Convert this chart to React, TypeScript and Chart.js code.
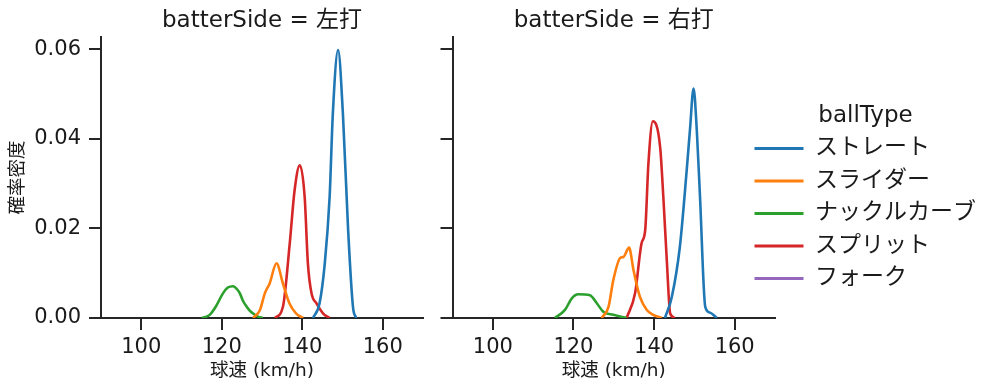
import React, { useEffect, useRef } from 'react';
import { Chart, registerables } from 'chart.js';

Chart.register(...registerables);

// ---------- data ----------
const ballTypes = ['ストレート', 'スライダー', 'ナックルカーブ', 'スプリット', 'フォーク'];
const colors = ['#1f77b4', '#ff7f0e', '#2ca02c', '#d62728', '#9467bd'];
const panelTitles = ['batterSide = 左打', 'batterSide = 右打'];
const legendTitle = 'ballType';
const xTitle = '球速 (km/h)';
const yTitle = '確率密度';
const xTicks = [100, 120, 140, 160];
const yTicks = [0, 0.02, 0.04, 0.06];

// left panel (左打): [speed, density]
const leftStraight = [[142.7, 0], [144.3, 0.0033], [145.6, 0.0122], [146.8, 0.027], [147.6, 0.0456], [148.9, 0.0598], [150.1, 0.0456], [151.4, 0.0196], [152.6, 0.0025], [153.4, 0]];
const leftSlider = [[127.8, 0], [129.5, 0.0018], [130.7, 0.0055], [131.9, 0.0077], [133.6, 0.0122], [135.2, 0.0077], [136.8, 0.0033], [138.5, 0.001], [140.2, 0]];
const leftKnuckleCurve = [[115, 0], [117, 0.0007], [118.5, 0.0025], [120.3, 0.0055], [121.5, 0.0068], [122.8, 0.0071], [124, 0.0062], [124.5, 0.0055], [125.3, 0.0038], [126.2, 0.0025], [127, 0.0016], [127.8, 0.001], [129, 0.0003], [130.2, 0]];
const leftSplit = [[133.2, 0], [135.2, 0.0025], [136.9, 0.0167], [138.1, 0.0285], [139.4, 0.0341], [140.6, 0.027], [141.4, 0.0122], [142.3, 0.0055], [143.5, 0.0033], [145.2, 0.001], [146.8, 0]];
const leftFork: number[][] = [];

// right panel (右打)
const rightStraight = [[142.7, 0], [144.4, 0.0047], [146.4, 0.0159], [148.1, 0.033], [148.9, 0.0419], [149.8, 0.0512], [150.6, 0.0419], [151.4, 0.027], [152.7, 0.0025], [153.9, 0.0012], [155.6, 0]];
const rightSlider = [[127, 0], [128.7, 0.0025], [129.9, 0.0085], [131.6, 0.0134], [132.4, 0.0136], [133.8, 0.0157], [134.9, 0.0107], [136.5, 0.0047], [138.2, 0.0018], [139.8, 0.0007], [141.9, 0]];
const rightKnuckleCurve = [[115.4, 0], [117.9, 0.0018], [119.6, 0.0044], [121.2, 0.0053], [124.1, 0.0051], [125.8, 0.0033], [127.4, 0.0014], [129.9, 0.0007], [133.2, 0]];
const rightSplit = [[133.2, 0], [135.3, 0.0056], [136.9, 0.0167], [137.8, 0.0196], [138.6, 0.0345], [139.7, 0.0439], [141.5, 0.0382], [142.3, 0.027], [143.2, 0.0122], [144, 0.001], [145.2, 0]];
const rightFork: number[][] = [];

const panelSeries = [
  [leftStraight, leftSlider, leftKnuckleCurve, leftSplit, leftFork],
  [rightStraight, rightSlider, rightKnuckleCurve, rightSplit, rightFork],
];

// ---------- styling ----------
const FONT = '"DejaVu Sans", "Noto Sans CJK JP", sans-serif';
const TEXT = '#1a1a1a';
const AXIS = '#262626';

function panelConfig(idx: number): any {
  const isLeft = idx === 0;
  return {
    type: 'line',
    data: {
      datasets: panelSeries[idx].map((pts, i) => ({
        label: ballTypes[i],
        data: pts.map(([x, y]) => ({ x, y })),
        borderColor: colors[i],
        backgroundColor: colors[i],
        borderWidth: 2.6,
        pointRadius: 0,
        fill: false,
        cubicInterpolationMode: 'monotone',
      })),
    },
    options: {
      animation: false,
      responsive: false,
      maintainAspectRatio: false,
      events: [],
      layout: { padding: { left: 0, right: isLeft ? 17 : 15, top: 0, bottom: 0 } },
      plugins: {
        legend: { display: false },
        tooltip: { enabled: false },
        title: {
          display: true,
          text: panelTitles[idx],
          fullSize: false,
          color: TEXT,
          font: { family: FONT, size: 23, weight: 'normal' },
          padding: { top: 7.5, bottom: 1.9 },
        },
      },
      scales: {
        x: {
          type: 'linear',
          min: 90,
          max: 170,
          afterBuildTicks: (s: any) => { s.ticks = xTicks.map((v) => ({ value: v })); },
          afterFit: (s: any) => { s.height = 73; },
          ticks: {
            color: TEXT,
            font: { family: FONT, size: 21 },
            padding: 5,
            maxRotation: 0,
            autoSkip: false,
            callback: (v: any) => String(v),
          },
          grid: { drawOnChartArea: false, drawTicks: true, tickLength: 12, color: AXIS, lineWidth: 2 },
          border: { display: true, color: AXIS, width: 2 },
          title: {
            display: true,
            text: xTitle,
            color: TEXT,
            font: { family: FONT, size: 18.5 },
            padding: { top: 0, bottom: 9 },
          },
        },
        y: {
          type: 'linear',
          min: 0,
          max: 0.0627,
          afterBuildTicks: (s: any) => { s.ticks = yTicks.map((v) => ({ value: v })); },
          afterFit: (s: any) => { s.width = isLeft ? 101 : 12.5; },
          ticks: {
            display: isLeft,
            color: TEXT,
            font: { family: FONT, size: 21 },
            padding: 8,
            callback: (v: any) => Number(v).toFixed(2),
          },
          grid: { drawOnChartArea: false, drawTicks: true, tickLength: 12, color: AXIS, lineWidth: 2 },
          border: { display: true, color: AXIS, width: 2 },
          title: {
            display: isLeft,
            text: yTitle,
            color: TEXT,
            font: { family: FONT, size: 18.5 },
            padding: { top: 7, bottom: 0 },
          },
        },
      },
    },
  };
}

function legendConfig(): any {
  return {
    type: 'line',
    data: {
      datasets: ballTypes.map((t, i) => ({
        label: t,
        data: [],
        borderColor: colors[i],
        backgroundColor: colors[i],
        borderWidth: 3,
      })),
    },
    options: {
      animation: false,
      responsive: false,
      maintainAspectRatio: false,
      events: [],
      layout: { padding: { top: 13, left: 0, right: 0, bottom: 0 } },
      scales: {
        x: { type: 'linear', display: false },
        y: { type: 'linear', display: false },
      },
      plugins: {
        tooltip: { enabled: false },
        title: { display: false },
        legend: {
          display: true,
          position: 'left',
          align: 'center',
          maxWidth: 250,
          title: {
            display: true,
            text: legendTitle,
            position: 'center',
            color: TEXT,
            font: { family: FONT, size: 23, lineHeight: 1.0 },
            padding: 0,
          },
          labels: {
            color: TEXT,
            font: { family: FONT, size: 23 },
            boxWidth: 49,
            boxHeight: 3,
            padding: 9.5,
            generateLabels: (chart: any) =>
              chart.data.datasets.map((ds: any, i: number) => ({
                text: ds.label,
                fillStyle: colors[i],
                strokeStyle: colors[i],
                lineWidth: 0,
                hidden: false,
                datasetIndex: i,
                fontColor: TEXT,
              })),
          },
        },
      },
    },
  };
}

export default function App() {
  const leftRef = useRef<HTMLCanvasElement>(null);
  const rightRef = useRef<HTMLCanvasElement>(null);
  const legendRef = useRef<HTMLCanvasElement>(null);

  useEffect(() => {
    const charts: Chart[] = [];
    if (leftRef.current) charts.push(new Chart(leftRef.current, panelConfig(0)));
    if (rightRef.current) charts.push(new Chart(rightRef.current, panelConfig(1)));
    if (legendRef.current) charts.push(new Chart(legendRef.current, legendConfig()));
    return () => charts.forEach((c) => c.destroy());
  }, []);

  return (
    <div style={{ position: 'absolute', left: 0, top: 0, width: 999, height: 391, background: '#fff', overflow: 'hidden' }}>
      <canvas ref={leftRef} width={440} height={391} style={{ position: 'absolute', left: 0, top: 0, width: 440, height: 391 }} />
      <canvas ref={rightRef} width={350} height={391} style={{ position: 'absolute', left: 440, top: 0, width: 350, height: 391 }} />
      <canvas ref={legendRef} width={254} height={391} style={{ position: 'absolute', left: 745, top: 0, width: 254, height: 391 }} />
    </div>
  );
}
